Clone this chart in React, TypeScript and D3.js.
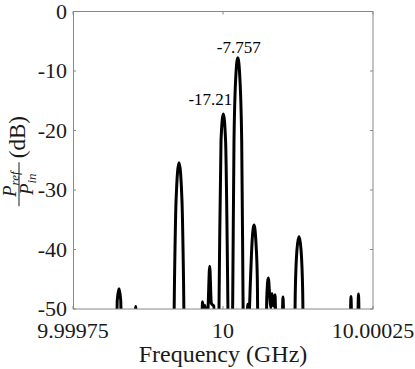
import React from 'react';
import * as d3 from 'd3';

// reflected power spectrum, frequency given as offset from 10 GHz in kHz
const offsetKHz = [
  -250,
  -178.3, -176.2, -173.3, -170.5, -168.3,
  -147.5, -145.5, -143.3,
  -83.3, -80.8, -78.3, -73.3, -68.3, -65.8, -63.3,
  -36.2, -34.2, -31.7, -30, -27.5, -25, -22.2, -19.5, -17.5, -15.3, -13.3,
  -8.3, -6.2, -3.3, 0.5, 4.3, 7.7, 10,
  14.2, 16.3, 18.3, 21.3, 24.7, 28, 31.2, 33.3, 35.3,
  38.8, 41.3, 43.3, 45.8, 48.3, 51.7, 55, 57.2, 59.2,
  71.2, 73, 75.5, 78, 79.7, 81.7, 84.2, 86.7, 89.2, 97, 100, 103,
  118.3, 120.5, 123.3, 126.7, 130, 132.8, 135,
  210.8, 213.3, 215.8, 223.3, 225.8, 228.3,
  250,
];
const levelDb = [
  -70,
  -60, -48.5, -46.6, -48.5, -60,
  -60, -49.6, -60,
  -65, -45, -32, -25.4, -32, -45, -65,
  -62, -48.8, -50.5, -49.4, -52, -50, -42.8, -49, -49.3, -49.5, -62,
  -65, -45, -21.7, -17.21, -21.7, -45, -65,
  -70, -47, -22, -11, -7.757, -11, -22, -47, -70,
  -62, -49.2, -51, -45, -39, -35.9, -39, -45, -65,
  -62, -48, -44.8, -48, -49.8, -47.4, -49.5, -47.6, -60, -62, -48, -62,
  -65, -47, -40, -37.8, -40, -47, -65,
  -62, -47.9, -62, -62, -47.5, -62,
  -70,
];

const yTicks = [0, -10, -20, -30, -40, -50];
const xTicks = [-250, 0, 250];
const xTickLabels = ['9.99975', '10', '10.00025'];

// annotated peaks
const peakKHz = [0.5, 24.7];
const peakDb = [-17.21, -7.757];
const peakText = ['-17.21', '-7.757'];

const W = 415;
const H = 369;
const left = 73;
const right = 373;
const top = 11.5;
const bottom = 309;
const serif = { fontFamily: 'Liberation Serif, Times New Roman, serif' };

export default function App() {
  const x = d3.scaleLinear().domain([-250, 250]).range([left, right]);
  const y = d3.scaleLinear().domain([-50, 0]).range([bottom, top]);

  const pts: [number, number][] = offsetKHz.map((f, i) => [f, levelDb[i]]);
  const path = d3
    .line<[number, number]>()
    .x(d => x(d[0]))
    .y(d => y(d[1]))
    .curve(d3.curveMonotoneX)(pts) || '';

  // label placement: [dx, dy, anchor]
  const labelPos: [number, number, string][] = [
    [9, -9, 'end'],
    [1, -5, 'middle'],
  ];

  return (
    <svg
      width={W}
      height={H}
      style={{ position: 'absolute', left: 0, top: 0, background: '#fff' }}
    >
      <defs>
        <clipPath id="plotClip">
          <rect x={left} y={top} width={right - left} height={bottom - top} />
        </clipPath>
      </defs>

      <path d={path} fill="none" stroke="#000" strokeWidth={3} clipPath="url(#plotClip)" strokeLinejoin="round" />

      <rect x={left + 0.5} y={top} width={right - left - 0.5} height={bottom - top} fill="none" stroke="#888" strokeWidth={1} />

      {yTicks.map(t => (
        <g key={'y' + t}>
          <line x1={left} x2={left + 3} y1={y(t)} y2={y(t)} stroke="#888" />
          <line x1={right} x2={right - 3} y1={y(t)} y2={y(t)} stroke="#888" />
          <text x={left - 6} y={y(t)} dy="0.33em" textAnchor="end" style={serif} fontSize={22} fill="#1a1a1a">
            {t}
          </text>
        </g>
      ))}

      {xTicks.map((t, i) => (
        <g key={'x' + t}>
          <line x1={x(t)} x2={x(t)} y1={bottom} y2={bottom - 3} stroke="#888" />
          <line x1={x(t)} x2={x(t)} y1={top} y2={top + 3} stroke="#888" />
          <text x={x(t)} y={bottom + 29} textAnchor="middle" style={serif} fontSize={22} fill="#1a1a1a">
            {xTickLabels[i]}
          </text>
        </g>
      ))}

      {peakKHz.map((f, i) => (
        <text
          key={peakText[i]}
          x={x(f) + labelPos[i][0]}
          y={y(peakDb[i]) + labelPos[i][1]}
          textAnchor={labelPos[i][2]}
          style={serif}
          fontSize={17}
          fill="#000"
        >
          {peakText[i]}
        </text>
      ))}

      <text x={(left + right) / 2} y={362} textAnchor="middle" style={serif} fontSize={24} fill="#1a1a1a">
        Frequency (GHz)
      </text>

      <g transform={`translate(19, ${(top + bottom) / 2}) rotate(-90)`} style={serif} fill="#1a1a1a">
        <text x={-24} y={-3} textAnchor="middle" fontSize={19} fontStyle="italic">
          P<tspan fontSize={13} dy={3}>ref</tspan>
        </text>
        <line x1={-46} x2={-2} y1={0} y2={0} stroke="#1a1a1a" strokeWidth={1} />
        <text x={-24} y={14} textAnchor="middle" fontSize={19} fontStyle="italic">
          P<tspan fontSize={13} dy={3}>in</tspan>
        </text>
        <text x={2} y={6} textAnchor="start" fontSize={23}>
          (dB)
        </text>
      </g>
    </svg>
  );
}
